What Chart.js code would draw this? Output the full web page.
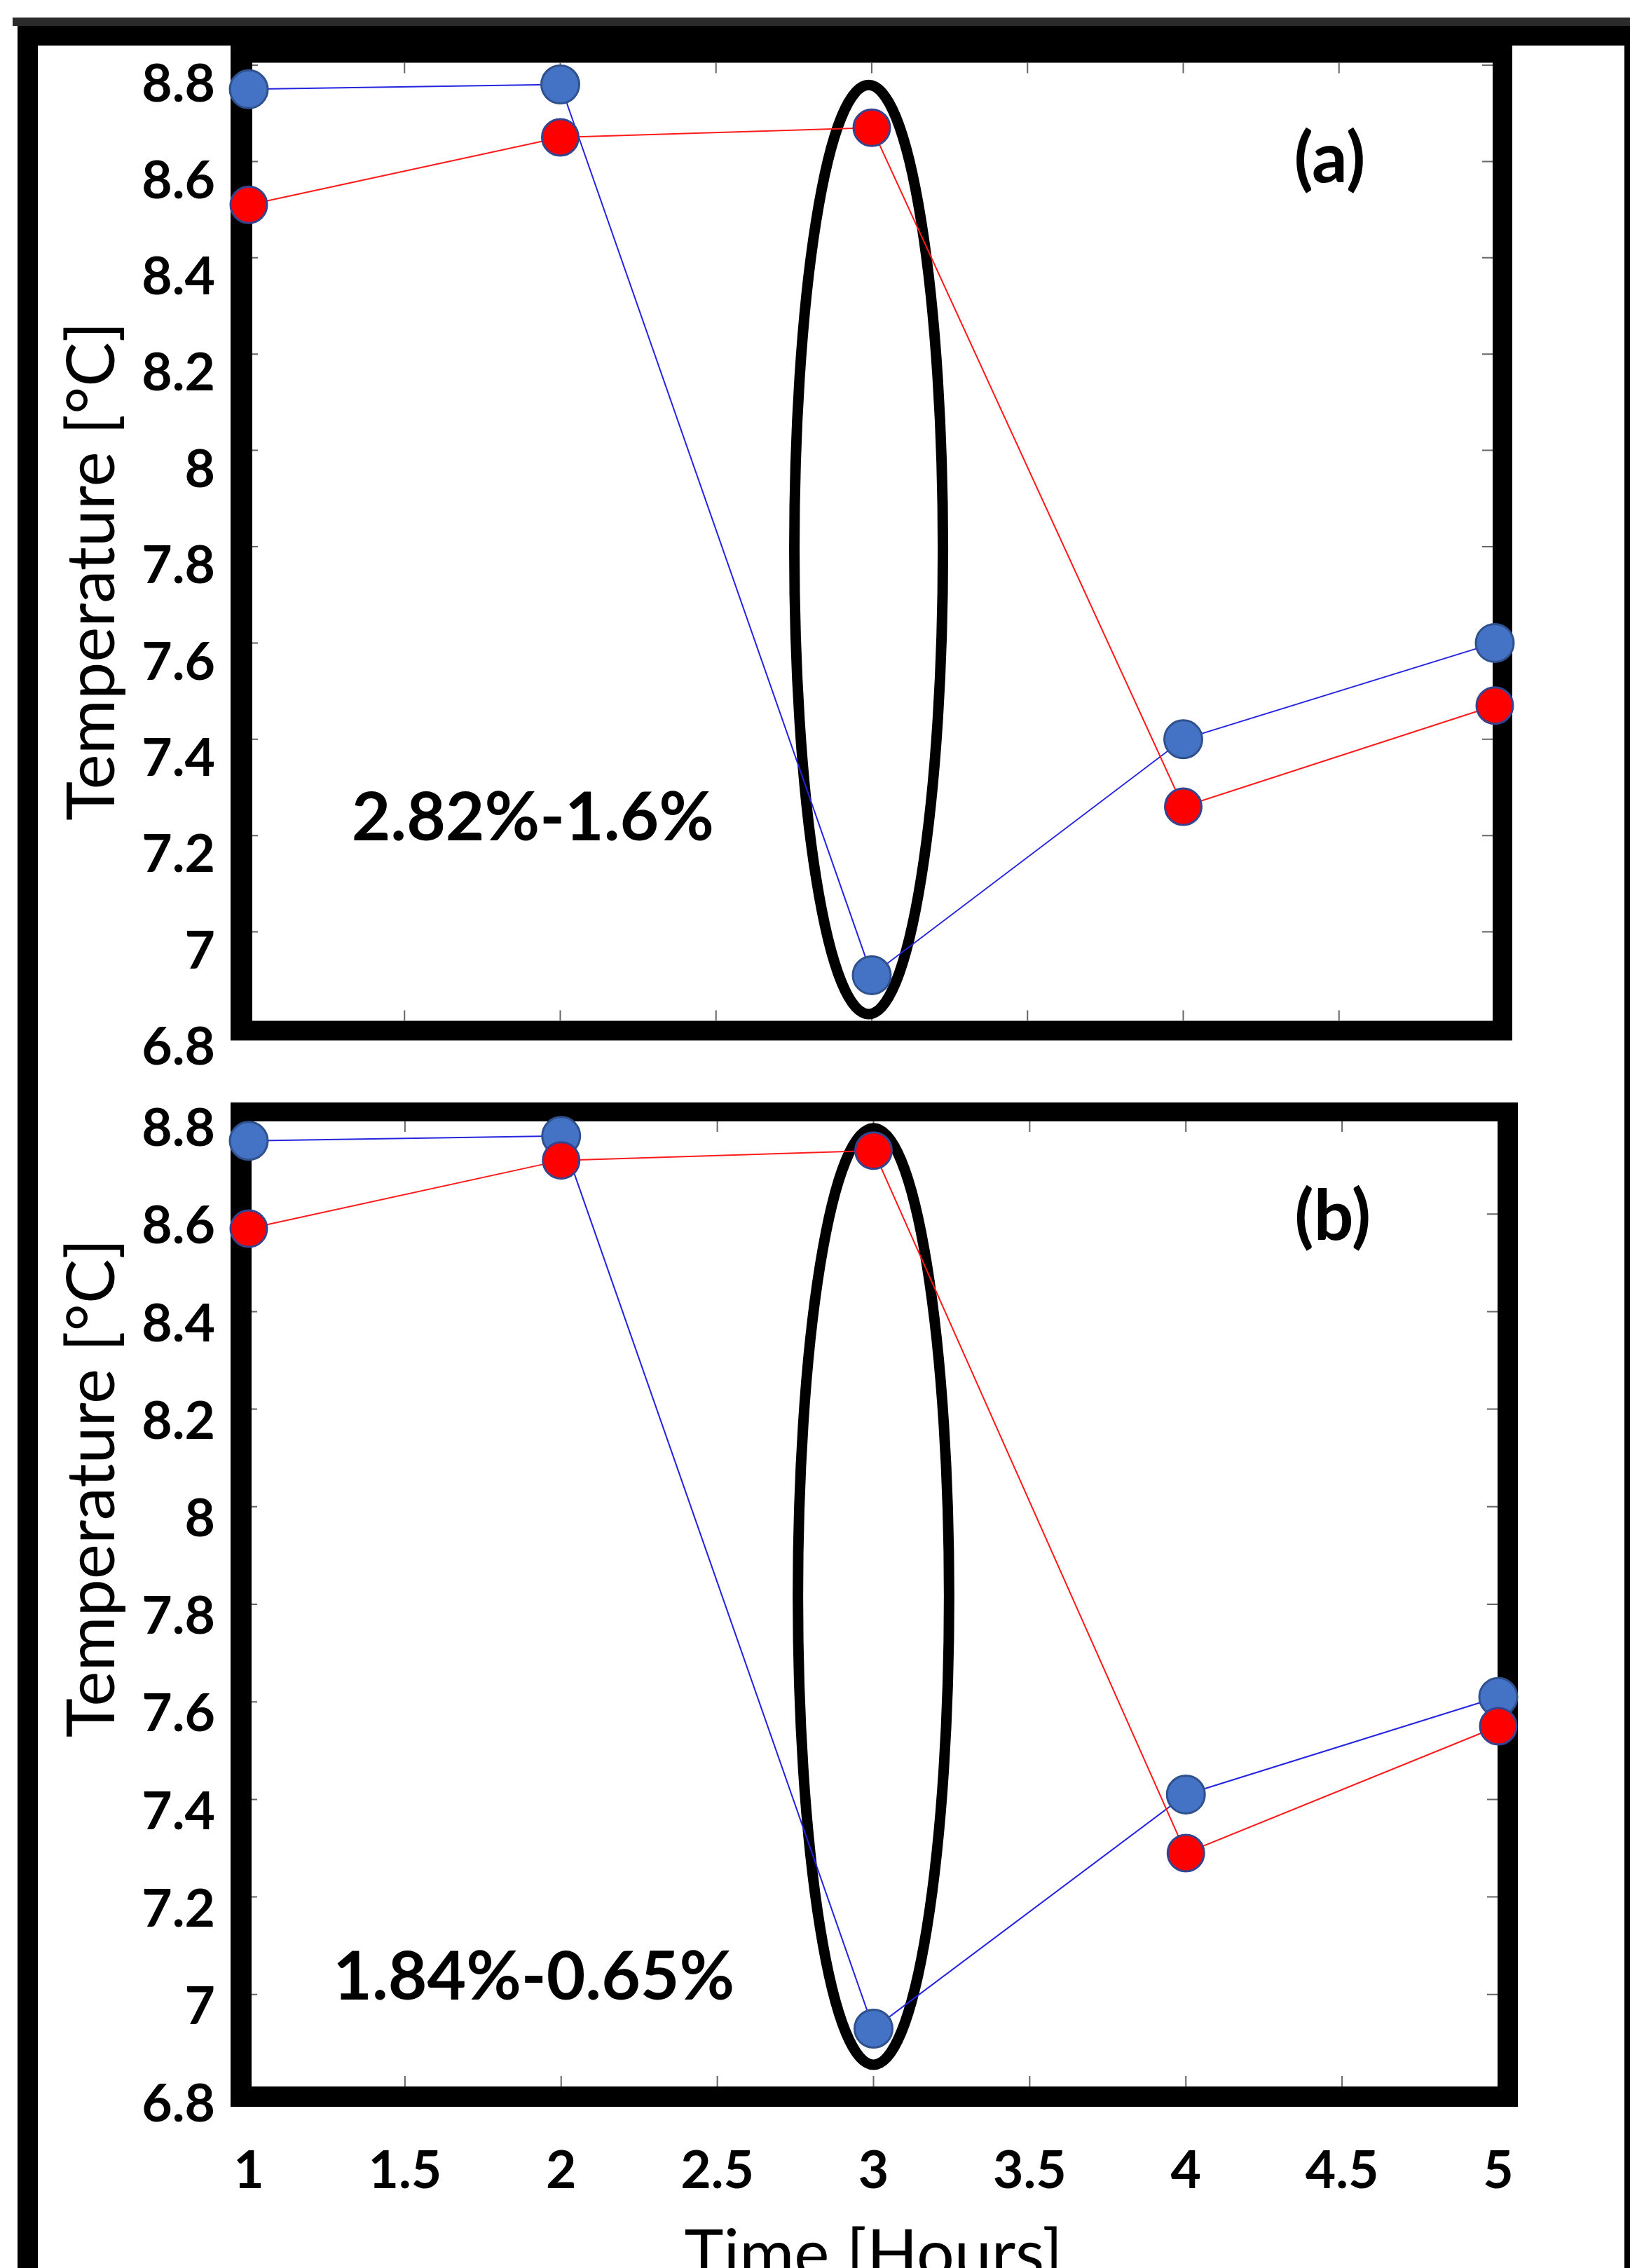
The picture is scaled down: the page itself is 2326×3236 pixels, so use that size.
<!DOCTYPE html>
<html><head><meta charset="utf-8">
<script src="https://cdn.jsdelivr.net/npm/chart.js@4.4.1/dist/chart.umd.min.js"></script>
<style>
html,body{margin:0;padding:0;width:2326px;height:3236px;overflow:hidden;background:#fff;}
#page{position:relative;width:2326px;height:3236px;overflow:hidden;background:#fff;}
.fr{position:absolute;background:#000;}
canvas{position:absolute;left:0;}
</style></head><body>
<div id="page">
<div class="fr" style="left:18px;top:25px;width:2308px;height:12px;background:#2b2b2b"></div>
<div class="fr" style="left:25px;top:37px;width:2301px;height:28px"></div>
<div class="fr" style="left:25px;top:37px;width:29px;height:3199px"></div>
<div class="fr" style="left:2318px;top:37px;width:8px;height:3199px"></div>
<canvas id="cA" width="2326" height="1560" style="top:0px"></canvas>
<canvas id="cB" width="2326" height="1850" style="top:1500px"></canvas>
</div>
<script>
// ---- data ----
const times = [1, 2, 3, 4, 5];
const blueA = [8.75, 8.76, 6.91, 7.40, 7.60];
const redA  = [8.51, 8.65, 8.67, 7.26, 7.47];
const blueB = [8.75, 8.76, 6.93, 7.41, 7.61];
const redB  = [8.57, 8.71, 8.73, 7.29, 7.55];
const xTickValues = [1, 1.5, 2, 2.5, 3, 3.5, 4, 4.5, 5];
const xTickLabels = ['1', '1.5', '2', '2.5', '3', '3.5', '4', '4.5', '5'];
const yTickValues = [6.8, 7, 7.2, 7.4, 7.6, 7.8, 8, 8.2, 8.4, 8.6, 8.8];
const yTickLabels = ['6.8', '7', '7.2', '7.4', '7.6', '7.8', '8', '8.2', '8.4', '8.6', '8.8'];
const yTitle = 'Temperature [°C]';
const xTitle = 'Time [Hours]';
const panelLabels = ['(a)', '(b)'];
const rangeLabels = ['2.82%-1.6%', '1.84%-0.65%'];

// ---- panel settings (annotation anchors in data units) ----
const panelA = {
  padTop: 83.5, padRight: 193, yWidth: 355, xHeight: 71.5, showX: false, xPad: 0, xTitlePad: 0, labelOffset: 28,
  frame: { outer: [-26, -46.5, 25, 17.5], inner: [5, -3.5, -3, -10.5] },
  ellipse: { cx: 2.99, cy: 7.794, rx: 0.2385, ry: 0.965 },
  panelLabel: panelLabels[0], panelPos: [4.47, 8.557],
  rangeLabel: rangeLabels[0], rangePos: [1.33, 7.19],
  titleY: 7.749
};
const panelB = {
  padTop: 68, padRight: 188, yWidth: 355, xHeight: 365, showX: true, xPad: 68, xTitlePad: 75, labelOffset: 18,
  frame: { outer: [-26, -20, 28, 21], inner: [4, 7, -1, -8] },
  ellipse: { cx: 3.0, cy: 7.816, rx: 0.242, ry: 0.96 },
  panelLabel: panelLabels[1], panelPos: [4.47, 8.547],
  rangeLabel: rangeLabels[1], rangePos: [1.27, 6.99],
  titleY: 8.038
};

const decor = {
  id: 'panelDecor',
  beforeDatasetsDraw(chart, args, P) {
    const ctx = chart.ctx, a = chart.chartArea, xs = chart.scales.x, ys = chart.scales.y, f = P.frame;
    const o = [a.left + f.outer[0], a.top + f.outer[1], a.right + f.outer[2], a.bottom + f.outer[3]];
    const n = [a.left + f.inner[0], a.top + f.inner[1], a.right + f.inner[2], a.bottom + f.inner[3]];
    ctx.save();
    ctx.fillStyle = '#000';
    ctx.beginPath();
    ctx.rect(o[0], o[1], o[2] - o[0], o[3] - o[1]);
    ctx.rect(n[0], n[1], n[2] - n[0], n[3] - n[1]);
    ctx.fill('evenodd');
    ctx.strokeStyle = '#666';
    ctx.lineWidth = 2;
    const L = 15;
    ctx.beginPath();
    xs.ticks.forEach(t => {
      const px = xs.getPixelForValue(t.value);
      if (px <= n[0] + 3 || px >= n[2] - 3) return;
      ctx.moveTo(px, n[1]); ctx.lineTo(px, n[1] + L);
      ctx.moveTo(px, n[3]); ctx.lineTo(px, n[3] - L);
    });
    ys.ticks.forEach(t => {
      const py = ys.getPixelForValue(t.value);
      if (py <= n[1] + 3 || py >= n[3] - 3) return;
      ctx.moveTo(n[0], py); ctx.lineTo(n[0] + 8, py);
      ctx.moveTo(n[2], py); ctx.lineTo(n[2] - L, py);
    });
    ctx.stroke();
    const e = P.ellipse;
    const cx = xs.getPixelForValue(e.cx), cy = ys.getPixelForValue(e.cy);
    const rx = Math.abs(xs.getPixelForValue(e.cx + e.rx) - cx);
    const ry = Math.abs(ys.getPixelForValue(e.cy + e.ry) - cy);
    ctx.beginPath();
    ctx.ellipse(cx, cy, rx, ry, 0, 0, Math.PI * 2);
    ctx.lineWidth = 15;
    ctx.strokeStyle = '#000';
    ctx.stroke();
    ctx.restore();
  },
  afterDatasetsDraw(chart, args, P) {
    const ctx = chart.ctx, xs = chart.scales.x, ys = chart.scales.y;
    ctx.save();
    ctx.fillStyle = '#000';
    ctx.textBaseline = 'alphabetic';
    ctx.font = 'bold 100px Lato';
    ctx.textAlign = 'center';
    ctx.fillText(P.panelLabel, xs.getPixelForValue(P.panelPos[0]), ys.getPixelForValue(P.panelPos[1]));
    ctx.font = 'bold 96px Lato';
    ctx.textAlign = 'left';
    ctx.fillText(P.rangeLabel, xs.getPixelForValue(P.rangePos[0]), ys.getPixelForValue(P.rangePos[1]));
    ctx.translate(163, ys.getPixelForValue(P.titleY));
    ctx.rotate(-Math.PI / 2);
    ctx.font = '95px Lato';
    ctx.textAlign = 'center';
    ctx.fillText(yTitle, 0, 0);
    ctx.restore();
  }
};

function makeChart(id, blue, red, P) {
  return new Chart(document.getElementById(id), {
    type: 'line',
    data: {
      datasets: [
        { data: times.map((t, i) => ({ x: t, y: red[i] })), borderColor: '#FF1A1A', borderWidth: 2,
          backgroundColor: '#FF0000', pointBackgroundColor: '#FF0000', pointBorderColor: '#36438F',
          pointBorderWidth: 3, pointRadius: 26, pointHoverRadius: 26, clip: false, tension: 0 },
        { data: times.map((t, i) => ({ x: t, y: blue[i] })), borderColor: '#2424E0', borderWidth: 2,
          backgroundColor: '#4472C4', pointBackgroundColor: '#4472C4', pointBorderColor: '#2F528F',
          pointBorderWidth: 3, pointRadius: 27, pointHoverRadius: 27, clip: false, tension: 0 }
      ]
    },
    options: {
      responsive: false, animation: false, devicePixelRatio: 1, events: [],
      layout: { padding: { top: P.padTop, right: P.padRight, left: 0, bottom: 0 } },
      plugins: { legend: { display: false }, tooltip: { enabled: false }, panelDecor: P },
      scales: {
        x: {
          type: 'linear', min: 1, max: 5,
          afterBuildTicks: s => { s.ticks = xTickValues.map(v => ({ value: v })); },
          afterFit: s => { s.height = P.xHeight; },
          ticks: { display: P.showX, callback: (v, i) => xTickLabels[i], font: { family: 'Lato', weight: 'bold', size: 75 },
                   color: '#000', padding: P.xPad, maxRotation: 0, autoSkip: false },
          grid: { display: false, drawTicks: false },
          border: { display: false },
          title: { display: P.showX, text: xTitle, font: { family: 'Lato', size: 95 }, color: '#000',
                   padding: { top: 0, bottom: P.xTitlePad } }
        },
        y: {
          type: 'linear', min: 6.8, max: 8.8,
          afterBuildTicks: s => { s.ticks = yTickValues.map(v => ({ value: v })); },
          afterFit: s => { s.width = P.yWidth; },
          ticks: { callback: (v, i) => yTickLabels[i], font: { family: 'Lato', weight: 'bold', size: 75 },
                   color: '#000', padding: 48, labelOffset: P.labelOffset, autoSkip: false },
          grid: { display: false, drawTicks: false },
          border: { display: false }
        }
      }
    },
    plugins: [decor]
  });
}

makeChart('cA', blueA, redA, panelA);
makeChart('cB', blueB, redB, panelB);
</script>
</body></html>
